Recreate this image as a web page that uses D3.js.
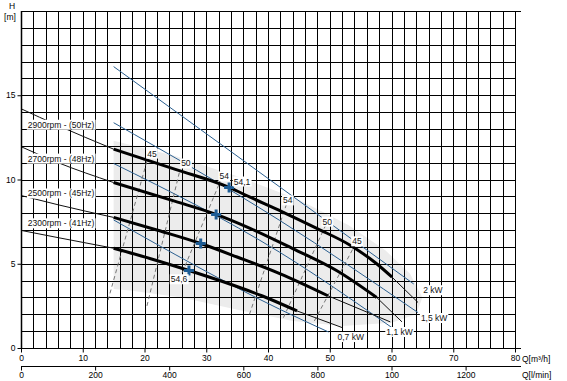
<!DOCTYPE html>
<html><head><meta charset="utf-8">
<script src="https://cdn.jsdelivr.net/npm/d3@7"></script>
<style>body{margin:0;background:#fff} svg{display:block;font-family:"Liberation Sans",Arial,sans-serif}</style>
</head><body><svg id="c" width="567" height="381"></svg>
<script>
// ---- data ----
const qTicks = [0,10,20,30,40,50,60,70,80];
const hTicks = [0,5,10,15];
const lminTicks = [0,200,400,600,800,1000,1200];
const lminTickLabels = ["0","200","400","600","800","100","1200"];

const speedNames = ["2900rpm - (50Hz)","2700rpm - (48Hz)","2500rpm - (45Hz)","2300rpm - (41Hz)"];
const speedLabelAt = [[6.5,13.25],[6.5,11.24],[6.5,9.17],[6.5,7.4]];
// thin lead-in (Q=0..15)
const lead2900 = [[0,14.2],[6,13.2],[15,11.8]];
const lead2700 = [[0,11.95],[6,11.0],[15,9.82]];
const lead2500 = [[0,9.05],[6,8.5],[15,7.75]];
const lead2300 = [[0,6.98],[6,6.55],[15,5.92]];
// thick operating curves
const run2900 = [[15,11.8],[25,10.6],[33.7,9.53],[37.1,8.95],[42.4,8.07],[47.9,7.1],[53.3,6.1],[57.6,5.0],[60.1,4.2]];
const run2700 = [[15,9.82],[25,8.7],[31.6,7.93],[37.1,7.1],[44,5.9],[51.1,4.6],[57.6,3.0]];
const run2500 = [[15,7.75],[22,7.0],[29.1,6.2],[35,5.4],[42,4.4],[49.7,3.1]];
const run2300 = [[15,5.92],[21,5.3],[27.2,4.6],[33,3.9],[39,3.1],[44.7,2.2]];
// thin run-out
const out2900 = [[60.1,4.2],[64.3,2.7]];
const out2700 = [[57.6,3.0],[61.7,1.55]];
const out2500 = [[49.7,3.1],[59.8,1.55]];
const out2300 = [[44.7,2.2],[52.1,1.2]];
// blue lines
const blue1 = [[15,16.7],[63.6,3.8]];
const blue2 = [[15,13.37],[41.9,7.57],[64.3,2.1]];
const blue3 = [[15,10.95],[41.9,5.68],[60.3,1.15]];
const blue4 = [[15,7.6],[41.9,2.3],[49.8,0.95]];
// iso-efficiency dashed lines
const eff45L = [[14.1,2.84],[20.4,11.1]];
const eff50L = [[20.4,2.5],[25.7,10.5]];
const eff54L = [[25.7,4.1],[32.5,10.1]];
const eff54R = [[37,2.0],[43.2,8.76]];
const eff50R = [[42.5,1.8],[49.6,7.5]];
const eff45R = [[47.5,1.6],[54.4,6.33]];
// best efficiency points
const bep = [[33.7,9.53],[31.6,7.93],[29.1,6.2],[27.2,4.6]];
// annotation texts
const effTexts = ["45","50","54","54,1","54","50","45","54,6"];
const effTextAt = [[21.2,11.54],[26.7,10.95],[32.9,10.18],[35.8,9.88],[43.2,8.76],[49.6,7.5],[54.4,6.33],[25.6,4.08]];
const kwTexts = ["2 kW","1,5 kW","1,1 kW","0,7 kW"];
const kwTextAt = [[66.7,3.43],[66.9,1.78],[61.3,0.95],[53.4,0.65]];
// operating area outline
const area = [[15,12.3],[25,11.4],[35,10.2],[45,8.8],[53,7.3],[59,5.8],[63,4.4],[65,3.0],[64,2.0],[60,1.5],[52,1.3],[44,1.6],[36,2.2],[26,3.0],[18,3.4],[15,3.5]];

// ---- drawing ----
const svg = d3.select("#c");
const x = d3.scaleLinear().domain([0,80]).range([21,515]);
const y = d3.scaleLinear().domain([0,20]).range([348,11]);
const xl = d3.scaleLinear().domain([0,80*1000/60]).range([21,515]);
const px = v => Math.round(v)+0.5;
const line = d3.line().x(d=>x(d[0])).y(d=>y(d[1]));
const smooth = d3.line().x(d=>x(d[0])).y(d=>y(d[1])).curve(d3.curveMonotoneX);

svg.append("path").datum(area).attr("d", d3.line().x(d=>x(d[0])).y(d=>y(d[1])).curve(d3.curveLinearClosed)).attr("fill","#ececec");

const g = svg.append("g");
g.selectAll(".vg").data(d3.range(0,81,2)).join("line")
  .attr("x1",d=>px(x(d))).attr("x2",d=>px(x(d))).attr("y1",px(y(0))).attr("y2",px(y(20)))
  .attr("stroke","#000").attr("stroke-width",1);
g.selectAll(".hg").data(d3.range(0,21,1)).join("line")
  .attr("x1",px(x(0))).attr("x2",d=>d===20?521:px(x(80))).attr("y1",d=>px(y(d))).attr("y2",d=>px(y(d)))
  .attr("stroke","#000").attr("stroke-width",1);

// blue lines
[blue1,blue2,blue3,blue4].forEach(b=>svg.append("path").datum(b).attr("d",smooth).attr("fill","none").attr("stroke","#2a5f90").attr("stroke-width",1));
// efficiency dashed
[eff45L,eff50L,eff54L,eff54R,eff50R,eff45R].forEach(b=>svg.append("path").datum(b).attr("d",line).attr("fill","none").attr("stroke","#777").attr("stroke-width",1).attr("stroke-dasharray","4,3"));
// thin parts of speed curves
[lead2900,lead2700,lead2500,lead2300,out2900,out2700,out2500,out2300].forEach(b=>svg.append("path").datum(b).attr("d",smooth).attr("fill","none").attr("stroke","#111").attr("stroke-width",1));
[run2900,run2700,run2500,run2300].forEach(b=>svg.append("path").datum(b).attr("d",smooth).attr("fill","none").attr("stroke","#000").attr("stroke-width",3));

// BEP crosses
svg.selectAll(".bep").data(bep).join("path")
  .attr("d",d=>{const cx=x(d[0]),cy=y(d[1]);return `M${cx-5},${cy}H${cx+5}M${cx},${cy-5}V${cy+5}`;})
  .attr("stroke","#1d5c94").attr("stroke-width",3);

function boxed(t,d,fs){
  const gg=svg.append("g");
  const tx=gg.append("text").attr("x",x(d[0])).attr("y",y(d[1])).attr("text-anchor","middle").attr("dominant-baseline","central").attr("font-size",fs).attr("fill","#111").text(t);
  const bb=tx.node().getBBox();
  gg.insert("rect","text").attr("x",bb.x-1).attr("y",bb.y).attr("width",bb.width+2).attr("height",bb.height).attr("fill","#fff");
}
speedNames.forEach((t,i)=>boxed(t,speedLabelAt[i],8.5));
effTexts.forEach((t,i)=>boxed(t,effTextAt[i],8.5));
kwTexts.forEach((t,i)=>boxed(t,kwTextAt[i],8.5));

// axes
const ax = svg.append("g").attr("transform",`translate(0,${px(y(0))})`)
  .call(d3.axisBottom(x).tickValues(qTicks).tickSize(4).tickPadding(2));
ax.select(".domain").remove();
ax.selectAll("text").attr("font-size",8.5).attr("font-family","Liberation Sans, Arial");
svg.append("line").attr("x1",x(0)).attr("x2",521).attr("y1",px(y(0))).attr("y2",px(y(0))).attr("stroke","#000");
const ax2 = svg.append("g").attr("transform","translate(0,366.5)")
  .call(d3.axisBottom(xl).tickValues(lminTicks).tickFormat((d,i)=>lminTickLabels[i]).tickSize(4).tickPadding(1));
ax2.select(".domain").remove();
ax2.selectAll("text").attr("font-size",8.5).attr("font-family","Liberation Sans, Arial");
svg.append("line").attr("x1",x(0)).attr("x2",521).attr("y1",366.5).attr("y2",366.5).attr("stroke","#000");
const ay = svg.append("g").attr("transform",`translate(${px(x(0))},0)`)
  .call(d3.axisLeft(y).tickValues(hTicks).tickSize(4).tickPadding(2));
ay.select(".domain").remove();
ay.selectAll("text").attr("font-size",8.5).attr("font-family","Liberation Sans, Arial");
svg.append("line").attr("x1",px(x(0))).attr("x2",px(x(0))).attr("y1",y(20)).attr("y2",y(0)).attr("stroke","#000").attr("stroke-width",1.5);

svg.append("text").attr("x",12).attr("y",9).attr("text-anchor","middle").attr("font-size",8.5).text("H");
svg.append("text").attr("x",10).attr("y",20).attr("text-anchor","middle").attr("font-size",8.5).text("[m]");
svg.append("text").attr("x",522).attr("y",362).attr("font-size",8.5).text("Q[m³/h]");
svg.append("text").attr("x",522).attr("y",378).attr("font-size",8.5).text("Q[l/min]");
</script></body></html>
